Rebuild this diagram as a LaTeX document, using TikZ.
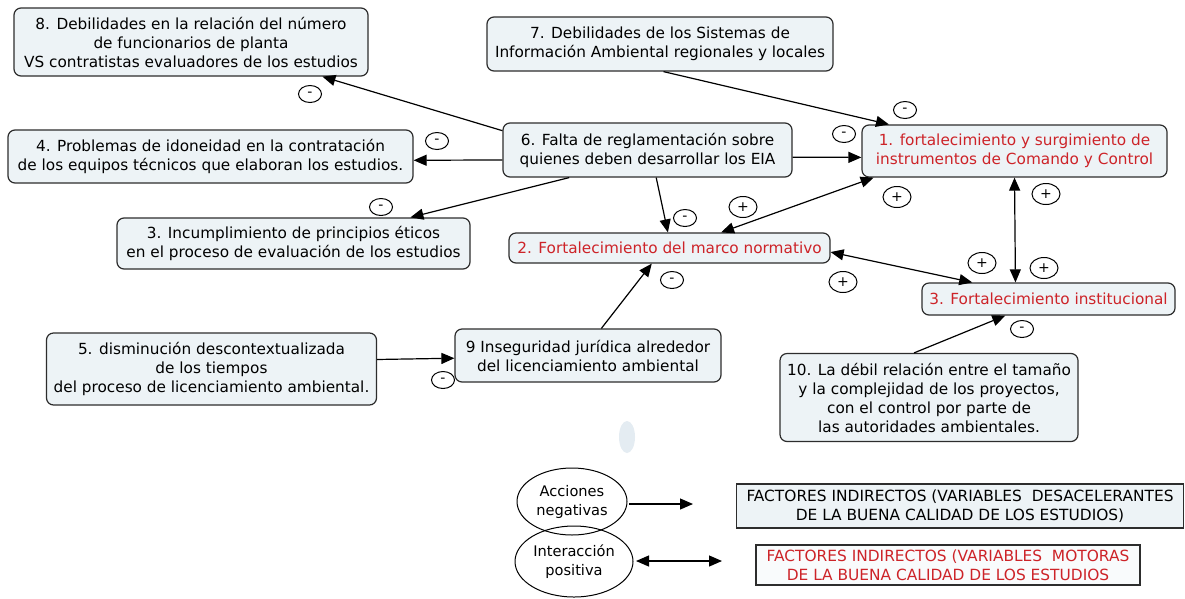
\documentclass[tikz,border=0pt]{standalone}
\usepackage{fontspec}
\setmainfont{DejaVu Sans}
\usetikzlibrary{arrows.meta,calc,shapes.geometric}
\definecolor{boxfill}{RGB}{237,243,246}
\definecolor{boxline}{RGB}{45,45,45}
\definecolor{redtxt}{RGB}{205,35,40}
\definecolor{paleblue}{RGB}{228,236,242}
\tikzset{
  box/.style={draw=boxline, fill=boxfill, rounded corners=7pt, line width=1.2pt, align=center,
    font=\fontsize{15.3}{19}\selectfont, inner sep=1pt},
  redbox/.style={box, text=redtxt},
  sign/.style={draw, ellipse, line width=1pt, minimum width=23pt, minimum height=17pt, inner sep=0pt,
    font=\fontsize{14}{14}\selectfont},
  psign/.style={sign, minimum width=28pt, minimum height=21pt},
  arr/.style={line width=1.2pt, -{Triangle[length=13pt,width=11pt]}},
  darr/.style={line width=1.2pt, {Triangle[length=13pt,width=11pt]}-{Triangle[length=13pt,width=11pt]}},
  legell/.style={draw, ellipse, line width=1pt, align=center, inner sep=0pt, font=\fontsize{14.6}{19}\selectfont},
  legbox/.style={draw=boxline, line width=1.4pt, align=center, font=\fontsize{15.4}{19}\selectfont, inner sep=1pt}
}
\begin{document}
\begin{tikzpicture}[x=1pt,y=-1pt]
\fill[white] (0,0) rectangle (1185,598);
\useasboundingbox (0,0) rectangle (1185,598);

% boxes
\node[box, minimum width=354pt, minimum height=68pt] (b8) at (191,42)
  {8. Debilidades en la relación del número\\de funcionarios de planta\\VS contratistas evaluadores de los estudios};
\node[box, minimum width=346pt, minimum height=54pt] (b7) at (660,44)
  {7. Debilidades de los Sistemas de\\Información Ambiental regionales y locales};
\node[box, minimum width=289pt, minimum height=54pt] (b6) at (647.5,150)
  {6. Falta de reglamentación sobre\\quienes deben desarrollar los EIA};
\node[box, minimum width=405pt, minimum height=53pt] (b4) at (210.5,156.5)
  {4. Problemas de idoneidad en la contratación\\de los equipos técnicos que elaboran los estudios.};
\node[box, minimum width=353pt, minimum height=51pt] (b3e) at (293.5,243.5)
  {3. Incumplimiento de principios éticos\\en el proceso de evaluación de los estudios};
\node[redbox, minimum width=321pt, minimum height=30pt] (b2) at (669.5,248)
  {2. Fortalecimiento del marco normativo};
\node[redbox, minimum width=305pt, minimum height=52pt] (b1) at (1014.5,151)
  {1. fortalecimiento y surgimiento de\\instrumentos de Comando y Control};
\node[redbox, minimum width=253pt, minimum height=32pt] (b3i) at (1048.5,299)
  {3. Fortalecimiento institucional};
\node[box, minimum width=298pt, minimum height=88pt] (b10) at (929,397.5)
  {10. La débil relación entre el tamaño\\y la complejidad de los proyectos,\\con el control por parte de\\las autoridades ambientales.};
\node[box, minimum width=330pt, minimum height=72pt] (b5) at (211.5,369)
  {5. disminución descontextualizada\\de los tiempos\\del proceso de licenciamiento ambiental.};
\node[box, minimum width=266pt, minimum height=53pt] (b9) at (588,355.5)
  {9 Inseguridad jurídica alrededor\\del licenciamiento ambiental};

% connectors
\draw[arr] ($(b6.north west)!0.15!(b6.south west)$) -- ($(b8.south west)!0.87!(b8.south east)$);
\draw[arr] ($(b6.north west)!0.68!(b6.south west)$) -- ($(b4.north east)!0.57!(b4.south east)$);
\draw[arr] ($(b6.south west)!0.23!(b6.south east)$) -- ($(b3e.north west)!0.83!(b3e.north east)$);
\draw[arr] ($(b6.south west)!0.53!(b6.south east)$) -- ($(b2.north west)!0.495!(b2.north east)$);
\draw[arr] ($(b6.north east)!0.63!(b6.south east)$) -- ($(b1.north west)!0.62!(b1.south west)$);
\draw[arr] ($(b7.south west)!0.51!(b7.south east)$) -- ($(b1.north west)!0.09!(b1.north east)$);
\draw[darr] ($(b2.north west)!0.66!(b2.north east)$) -- ($(b1.south west)!0.04!(b1.south east)$);
\draw[darr] ($(b1.south west)!0.50!(b1.south east)$) -- ($(b3i.north west)!0.37!(b3i.north east)$);
\draw[darr] ($(b2.north east)!0.63!(b2.south east)$) -- ($(b3i.north west)!0.2!(b3i.north east)$);
\draw[arr] ($(b10.north west)!0.45!(b10.north east)$) -- ($(b3i.south west)!0.33!(b3i.south east)$);
\draw[arr] ($(b9.north west)!0.55!(b9.north east)$) -- ($(b2.south west)!0.445!(b2.south east)$);
\draw[arr] ($(b5.north east)!0.37!(b5.south east)$) -- ($(b9.north west)!0.55!(b9.south west)$);

% signs
\node[sign] (s1) at (310,94) {-};
\node[sign] (s2) at (437,141) {-};
\node[sign] (s3) at (381,207) {-};
\node[sign] (s4) at (685,218) {-};
\node[sign] (s5) at (844,134) {-};
\node[sign] (s6) at (905,110) {-};
\node[psign] (s7) at (743,207) {+};
\node[psign] (s8) at (897,197) {+};
\node[psign] (s9) at (1046,194) {+};
\node[psign] (s10) at (1044,268) {+};
\node[psign] (s11) at (843,282) {+};
\node[psign] (s12) at (982,263) {+};
\node[sign] (s13) at (1022,329) {-};
\node[sign] (s14) at (672,280) {-};
\node[sign] (s15) at (443,380) {-};

% pale mark
\fill[paleblue] (627,437) ellipse (8pt and 16pt);

% legend
\node[legell, minimum width=110pt, minimum height=67pt] (e1) at (572,501.5) {Acciones\\negativas};
\node[legell, minimum width=118pt, minimum height=71pt] (e2) at (574,561.5) {Interacción\\positiva};
\coordinate (a1s) at (629,504);
\coordinate (a1e) at (693,504);
\coordinate (a2s) at (636,561);
\coordinate (a2e) at (722,561);
\draw[arr] (a1s) -- (a1e);
\draw[darr] (a2s) -- (a2e);
\node[legbox, fill=boxfill, minimum width=447pt, minimum height=44pt] (l1) at (960,506)
  {FACTORES INDIRECTOS (VARIABLES\ \ DESACELERANTES\\DE LA BUENA CALIDAD DE LOS ESTUDIOS)};
\node[legbox, fill=boxfill!35, text=redtxt, minimum width=384pt, minimum height=40pt] (l2) at (948,565)
  {FACTORES INDIRECTOS (VARIABLES\ \ MOTORAS\\DE LA BUENA CALIDAD DE LOS ESTUDIOS};
\end{tikzpicture}
\end{document}
